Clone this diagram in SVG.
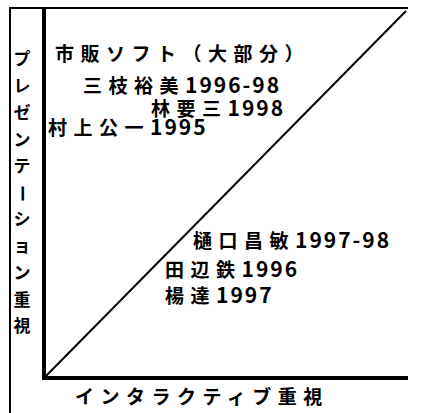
<svg xmlns="http://www.w3.org/2000/svg" width="428" height="413" viewBox="0 0 428 413">
<style>
.t{font-family:"Noto Sans CJK JP","Noto Sans CJK SC",sans-serif;font-size:19px;font-weight:bold;fill:#000;letter-spacing:6.5px}
.d{font-size:21px;letter-spacing:2px}
.v{font-family:"Noto Sans CJK JP","Noto Sans CJK SC",sans-serif;font-size:17px;font-weight:bold;fill:#000;text-anchor:middle}
.thin{stroke:#000;stroke-width:2;fill:none}
.thick{stroke:#000;stroke-width:4;fill:none}
</style>
<rect width="428" height="413" fill="#fff"/>
<g id="frame">
<line class="thin" x1="10" y1="8" x2="10" y2="413"/>
<line class="thin" x1="9" y1="8" x2="408" y2="8"/>
</g>
<g id="axes">
<line class="thick" x1="44" y1="7" x2="44" y2="380"/>
<line class="thick" x1="42" y1="378" x2="408" y2="378"/>
</g>
<g id="connectors">
<line class="thin" x1="46" y1="376" x2="406" y2="11"/>
</g>
<g id="y-label">
<text class="v" x="22 22 22 22 22 24 22 22 22 22 22" y="65 92 119 146 172 185 225 252 279 306 332" rotate="0 0 0 0 0 90 0 0 0 0 0">プレゼンテーション重視</text>
</g>
<g id="x-label">
<text class="t" x="75" y="404">インタラクティブ重視</text>
</g>
<g id="n-commercial"><text class="t" x="55" y="61">市販ソフト（大部分）</text></g>
<g id="n-saegusa"><text class="t" x="83" y="93">三枝裕美<tspan class="d">1996-98</tspan></text></g>
<g id="n-hayashi"><text class="t" x="151" y="116">林要三<tspan class="d">1998</tspan></text></g>
<g id="n-murakami"><text class="t" x="48" y="135">村上公一<tspan class="d">1995</tspan></text></g>
<g id="n-higuchi"><text class="t" x="193" y="248">樋口昌敏<tspan class="d">1997-98</tspan></text></g>
<g id="n-tanabe"><text class="t" x="165" y="277">田辺鉄<tspan class="d">1996</tspan></text></g>
<g id="n-yang"><text class="t" x="165" y="303">楊達<tspan class="d">1997</tspan></text></g>
</svg>
